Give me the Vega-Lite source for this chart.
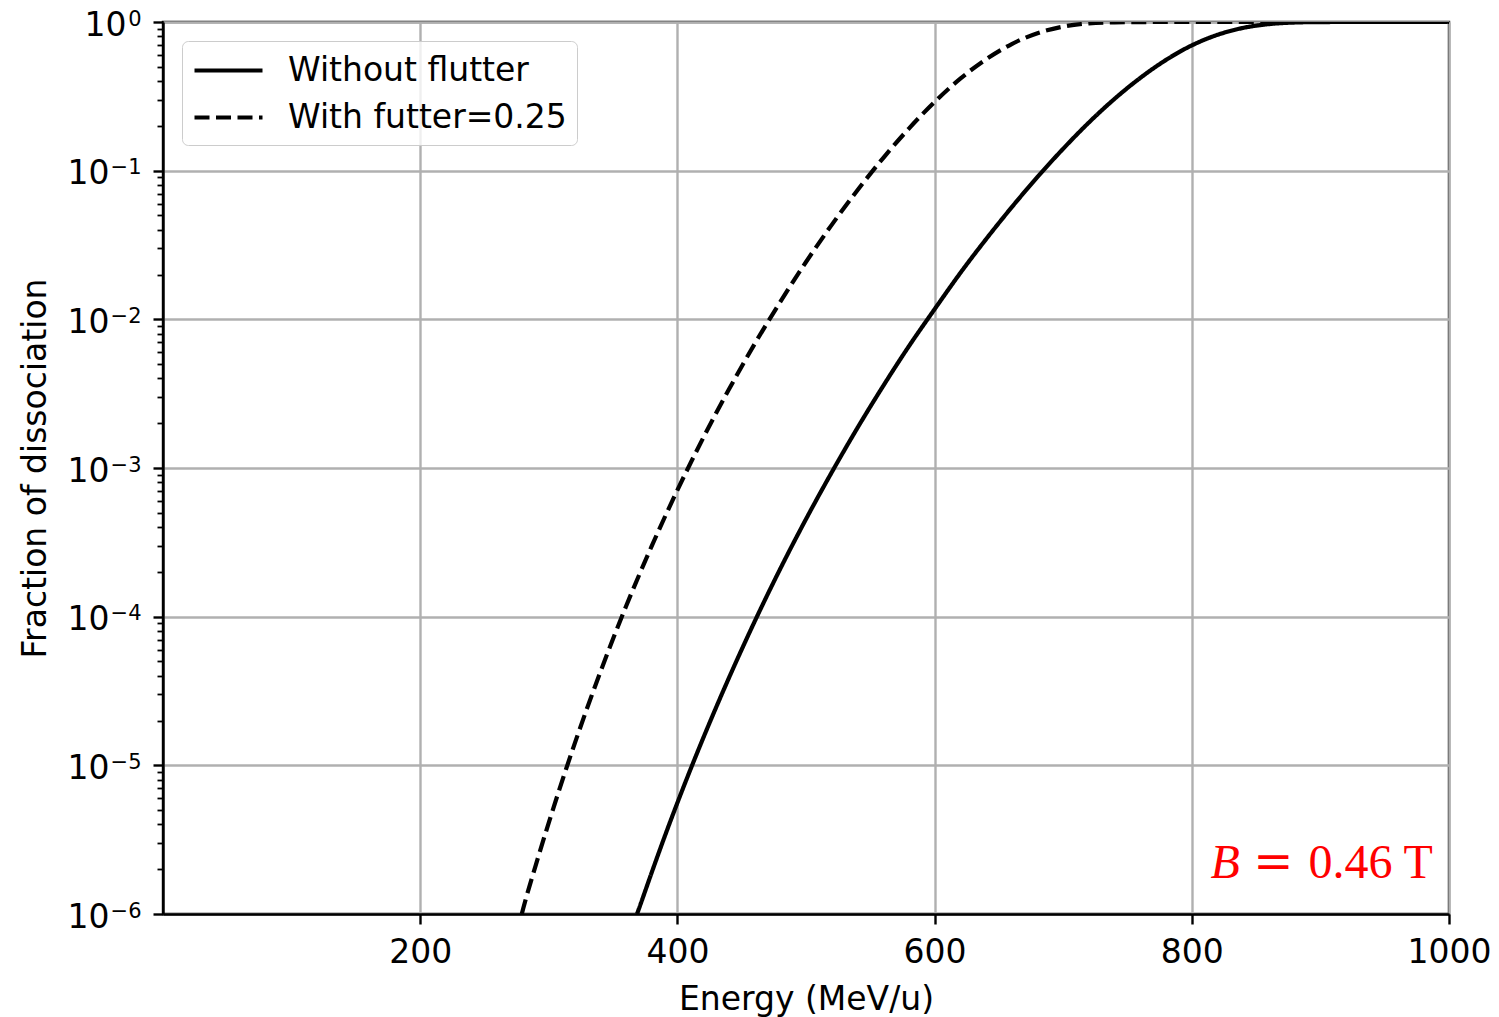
{
  "$schema": "https://vega.github.io/schema/vega-lite/v6.json",
  "width": 1286,
  "height": 892,
  "autosize": "none",
  "padding": {"left": 163, "top": 22, "right": 50, "bottom": 103},
  "background": "white",
  "config": {"view": {"stroke": "black", "strokeWidth": 2.4}, "font": "DejaVu Sans"},
  "resolve": {"axis": {"y": "independent"}},
  "data": {"values": [
    {"energy": 368.6, "fraction": 1e-6, "series": "Without flutter"},
    {"energy": 370, "fraction": 1.08e-6, "series": "Without flutter"},
    {"energy": 380, "fraction": 1.9e-6, "series": "Without flutter"},
    {"energy": 390, "fraction": 3.3e-6, "series": "Without flutter"},
    {"energy": 400, "fraction": 5.6e-6, "series": "Without flutter"},
    {"energy": 420, "fraction": 1.52e-5, "series": "Without flutter"},
    {"energy": 440, "fraction": 3.86e-5, "series": "Without flutter"},
    {"energy": 460, "fraction": 9.25e-5, "series": "Without flutter"},
    {"energy": 480, "fraction": 2.1e-4, "series": "Without flutter"},
    {"energy": 500, "fraction": 4.53e-4, "series": "Without flutter"},
    {"energy": 520, "fraction": 9.35e-4, "series": "Without flutter"},
    {"energy": 540, "fraction": 1.86e-3, "series": "Without flutter"},
    {"energy": 560, "fraction": 3.56e-3, "series": "Without flutter"},
    {"energy": 580, "fraction": 6.59e-3, "series": "Without flutter"},
    {"energy": 600, "fraction": 0.0117, "series": "Without flutter"},
    {"energy": 620, "fraction": 0.0205, "series": "Without flutter"},
    {"energy": 640, "fraction": 0.0346, "series": "Without flutter"},
    {"energy": 660, "fraction": 0.0568, "series": "Without flutter"},
    {"energy": 680, "fraction": 0.0907, "series": "Without flutter"},
    {"energy": 700, "fraction": 0.1405, "series": "Without flutter"},
    {"energy": 720, "fraction": 0.211, "series": "Without flutter"},
    {"energy": 740, "fraction": 0.3045, "series": "Without flutter"},
    {"energy": 760, "fraction": 0.421, "series": "Without flutter"},
    {"energy": 780, "fraction": 0.556, "series": "Without flutter"},
    {"energy": 800, "fraction": 0.696, "series": "Without flutter"},
    {"energy": 820, "fraction": 0.82, "series": "Without flutter"},
    {"energy": 840, "fraction": 0.913, "series": "Without flutter"},
    {"energy": 860, "fraction": 0.968, "series": "Without flutter"},
    {"energy": 880, "fraction": 0.992, "series": "Without flutter"},
    {"energy": 900, "fraction": 0.999, "series": "Without flutter"},
    {"energy": 920, "fraction": 1.0, "series": "Without flutter"},
    {"energy": 1000, "fraction": 1.0, "series": "Without flutter"},
    {"energy": 279, "fraction": 1e-6, "series": "With futter=0.25"},
    {"energy": 280, "fraction": 1.08e-6, "series": "With futter=0.25"},
    {"energy": 290, "fraction": 2.15e-6, "series": "With futter=0.25"},
    {"energy": 300, "fraction": 4.12e-6, "series": "With futter=0.25"},
    {"energy": 320, "fraction": 1.39e-5, "series": "With futter=0.25"},
    {"energy": 340, "fraction": 4.22e-5, "series": "With futter=0.25"},
    {"energy": 360, "fraction": 1.17e-4, "series": "With futter=0.25"},
    {"energy": 380, "fraction": 2.98e-4, "series": "With futter=0.25"},
    {"energy": 400, "fraction": 7.1e-4, "series": "With futter=0.25"},
    {"energy": 420, "fraction": 1.59e-3, "series": "With futter=0.25"},
    {"energy": 440, "fraction": 3.37e-3, "series": "With futter=0.25"},
    {"energy": 460, "fraction": 6.82e-3, "series": "With futter=0.25"},
    {"energy": 480, "fraction": 0.0131, "series": "With futter=0.25"},
    {"energy": 500, "fraction": 0.0243, "series": "With futter=0.25"},
    {"energy": 520, "fraction": 0.0432, "series": "With futter=0.25"},
    {"energy": 540, "fraction": 0.0738, "series": "With futter=0.25"},
    {"energy": 560, "fraction": 0.1216, "series": "With futter=0.25"},
    {"energy": 580, "fraction": 0.192, "series": "With futter=0.25"},
    {"energy": 600, "fraction": 0.29, "series": "With futter=0.25"},
    {"energy": 620, "fraction": 0.416, "series": "With futter=0.25"},
    {"energy": 640, "fraction": 0.561, "series": "With futter=0.25"},
    {"energy": 660, "fraction": 0.711, "series": "With futter=0.25"},
    {"energy": 680, "fraction": 0.841, "series": "With futter=0.25"},
    {"energy": 700, "fraction": 0.931, "series": "With futter=0.25"},
    {"energy": 720, "fraction": 0.979, "series": "With futter=0.25"},
    {"energy": 740, "fraction": 0.995, "series": "With futter=0.25"},
    {"energy": 760, "fraction": 0.999, "series": "With futter=0.25"},
    {"energy": 780, "fraction": 1.0, "series": "With futter=0.25"},
    {"energy": 1000, "fraction": 1.0, "series": "With futter=0.25"}
  ]},
  "layer": [
    {
      "mark": {"type": "line", "strokeWidth": 4.2, "color": "black", "clip": true, "interpolate": "monotone"},
      "encoding": {
        "x": {
          "field": "energy", "type": "quantitative",
          "scale": {"domain": [0, 1000], "nice": false, "zero": false},
          "axis": {
            "title": "Energy (MeV/u)", "titleFontSize": 33, "titleFontWeight": "normal", "titleColor": "black", "titleFont": "DejaVu Sans", "titlePadding": 14,
            "values": [200, 400, 600, 800, 1000], "format": "d",
            "labelFontSize": 33, "labelColor": "black", "labelFont": "DejaVu Sans", "labelPadding": 12, "labelFlush": false, "labelOverlap": false,
            "tickSize": 10, "tickWidth": 2.4, "tickColor": "black",
            "domainColor": "black", "domainWidth": 2.4,
            "grid": true, "gridColor": "#b0b0b0", "gridWidth": 2.4
          }
        },
        "y": {
          "field": "fraction", "type": "quantitative",
          "scale": {"type": "log", "domain": [1e-6, 1], "nice": false},
          "axis": {
            "orient": "left",
            "title": "Fraction of dissociation", "titleFontSize": 33, "titleFontWeight": "normal", "titleColor": "black", "titleFont": "DejaVu Sans", "titlePadding": 15,
            "values": [1e-6, 2e-6, 3e-6, 4e-6, 5e-6, 6e-6, 7e-6, 8e-6, 9e-6,
                       1e-5, 2e-5, 3e-5, 4e-5, 5e-5, 6e-5, 7e-5, 8e-5, 9e-5,
                       1e-4, 2e-4, 3e-4, 4e-4, 5e-4, 6e-4, 7e-4, 8e-4, 9e-4,
                       1e-3, 2e-3, 3e-3, 4e-3, 5e-3, 6e-3, 7e-3, 8e-3, 9e-3,
                       1e-2, 2e-2, 3e-2, 4e-2, 5e-2, 6e-2, 7e-2, 8e-2, 9e-2,
                       1e-1, 2e-1, 3e-1, 4e-1, 5e-1, 6e-1, 7e-1, 8e-1, 9e-1, 1],
            "labelExpr": "abs(log(datum.value)/LN10 - round(log(datum.value)/LN10)) < 0.001 ? '10' : ''",
            "labelFontSize": 33, "labelColor": "black", "labelFont": "DejaVu Sans",
            "labelPadding": {"condition": {"test": "datum.value > 0.5", "value": 27}, "value": 44},
            "labelOffset": 3,
            "labelFlush": false, "labelOverlap": false,
            "tickSize": {"condition": {"test": "abs(log(datum.value)/LN10 - round(log(datum.value)/LN10)) < 0.001", "value": 10}, "value": 6},
            "tickWidth": {"condition": {"test": "abs(log(datum.value)/LN10 - round(log(datum.value)/LN10)) < 0.001", "value": 2.4}, "value": 1.8},
            "tickColor": "black",
            "domainColor": "black", "domainWidth": 2.4,
            "grid": true, "gridColor": "#b0b0b0", "gridWidth": 2.4,
            "gridOpacity": {"condition": {"test": "abs(log(datum.value)/LN10 - round(log(datum.value)/LN10)) < 0.001", "value": 1}, "value": 0}
          }
        },
        "strokeDash": {
          "field": "series", "type": "nominal",
          "scale": {"domain": ["Without flutter", "With futter=0.25"], "range": [[1, 0], [15, 6.5]]},
          "legend": {
            "title": null, "orient": "top-left", "offset": 19, "padding": 10,
            "strokeColor": "#cccccc", "fillColor": "rgba(255,255,255,0.8)", "cornerRadius": 6,
            "labelFontSize": 33, "labelColor": "black", "labelFont": "DejaVu Sans", "labelLimit": 0,
            "symbolType": "M-1,0H3", "symbolSize": 1156, "symbolStrokeWidth": 4.2, "symbolStrokeColor": "black", "symbolFillColor": "transparent",
            "rowPadding": 10, "labelOffset": 57
          }
        }
      }
    },
    {
      "data": {"values": [{"label": "0.46 T"}]},
      "mark": {"type": "text", "font": "Liberation Serif", "fontSize": 48, "color": "red", "align": "right", "baseline": "alphabetic"},
      "encoding": {
        "x": {"datum": 987.5, "type": "quantitative"},
        "y": {
          "datum": 1.75e-6, "type": "quantitative",
          "axis": {
            "orient": "left", "title": null,
            "values": [1e-6, 1e-5, 1e-4, 1e-3, 1e-2, 1e-1, 1],
            "labelExpr": "round(-log(datum.value)/LN10) == 0 ? '0' : '\u2212' + round(-log(datum.value)/LN10)",
            "labelFontSize": 21, "labelColor": "black", "labelFont": "DejaVu Sans",
            "labelPadding": 22, "labelOffset": -3,
            "ticks": false, "tickSize": 0, "domain": false, "grid": false,
            "labelFlush": false, "labelOverlap": false
          }
        },
        "text": {"field": "label"}
      }
    },
    {
      "data": {"values": [{"label": "="}]},
      "mark": {"type": "text", "font": "DejaVu Serif", "fontSize": 48, "color": "red", "align": "center", "baseline": "alphabetic"},
      "encoding": {
        "x": {"datum": 863.4, "type": "quantitative"},
        "y": {"datum": 1.75e-6, "type": "quantitative", "axis": null},
        "text": {"field": "label"}
      }
    },
    {
      "data": {"values": [{"label": "B"}]},
      "mark": {"type": "text", "font": "Liberation Serif", "fontStyle": "italic", "fontSize": 48, "color": "red", "align": "right", "baseline": "alphabetic"},
      "encoding": {
        "x": {"datum": 837.3, "type": "quantitative"},
        "y": {"datum": 1.75e-6, "type": "quantitative", "axis": null},
        "text": {"field": "label"}
      }
    }
  ]
}
